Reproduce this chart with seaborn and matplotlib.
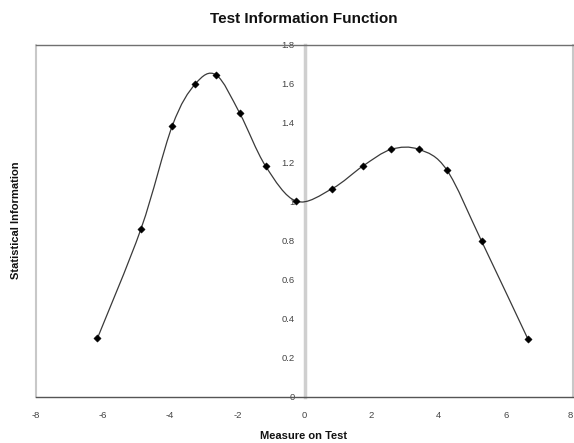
import numpy as np
import pandas as pd
import matplotlib
matplotlib.use("Agg")
import matplotlib.pyplot as plt
from matplotlib.path import Path
from matplotlib.patches import PathPatch
import seaborn as sns

# ---- data ----
measure = [-6.17, -4.87, -3.94, -3.25, -2.63, -1.93, -1.16, -0.24,
           0.83, 1.74, 2.58, 3.41, 4.24, 5.28, 6.66]
information = [0.30, 0.86, 1.385, 1.60, 1.645, 1.45, 1.18, 1.00,
               1.065, 1.18, 1.265, 1.265, 1.16, 0.795, 0.295]
x_ticks = [-8, -6, -4, -2, 0, 2, 4, 6, 8]
y_ticks = [0, 0.2, 0.4, 0.6, 0.8, 1.0, 1.2, 1.4, 1.6, 1.8]
y_tick_labels = ["0", "0.2", "0.4", "0.6", "0.8", "1", "1.2", "1.4", "1.6", "1.8"]

title = "Test Information Function"
x_label = "Measure on Test"
y_label = "Statistical Information"

df = pd.DataFrame({"measure": measure, "information": information})

sns.set_style("white")
plt.rcParams["font.family"] = ["Liberation Sans", "DejaVu Sans"]

W, H = 574, 443
fig = plt.figure(figsize=(W / 100, H / 100), dpi=100)
left, right, top, bottom = 36, 573, 44.7, 397
ax = fig.add_axes([left / W, 1 - bottom / H, (right - left) / W, (bottom - top) / H])

ax.set_xlim(-8, 8)
ax.set_ylim(0, 1.8)

# smooth (Excel-like) curve through the points: Catmull-Rom as cubic Bezier
pts = np.column_stack([df["measure"].to_numpy(), df["information"].to_numpy()])
ext = np.vstack([pts[0], pts, pts[-1]])
verts = [tuple(pts[0])]
codes = [Path.MOVETO]
for i in range(1, len(ext) - 2):
    p0, p1, p2, p3 = ext[i - 1], ext[i], ext[i + 1], ext[i + 2]
    c1 = p1 + (p2 - p0) / 6.0
    c2 = p2 - (p3 - p1) / 6.0
    verts += [tuple(c1), tuple(c2), tuple(p2)]
    codes += [Path.CURVE4] * 3
ax.add_patch(PathPatch(Path(verts, codes), facecolor="none",
                       edgecolor="#3a3a3a", lw=0.9, zorder=3))

sns.scatterplot(data=df, x="measure", y="information", ax=ax, marker="D",
                s=14, color="black", edgecolor="black", linewidth=0.3,
                zorder=4, legend=False)

# axes styling
ax.spines["left"].set_position(("data", 0))
ax.spines["left"].set_color("#cfcfcf")
ax.spines["left"].set_linewidth(2.5)
ax.spines["bottom"].set_color("#555555")
ax.spines["bottom"].set_linewidth(1.0)
ax.spines["top"].set_color("#707070")
ax.spines["top"].set_linewidth(1.0)
ax.spines["right"].set_color("#c8c8c8")
ax.spines["right"].set_linewidth(1.5)
ax.axvline(-8, color="#c8c8c8", lw=1.5, clip_on=False, zorder=1)

ax.set_xticks(x_ticks)
ax.set_xticklabels([str(t) for t in x_ticks])
ax.set_yticks(y_ticks)
ax.set_yticklabels(y_tick_labels)
ax.tick_params(axis="x", direction="out", length=2, width=0.8, color="#555555",
               pad=8, labelsize=6.8, labelcolor="#444444")
ax.tick_params(axis="y", direction="out", length=2, width=0.8, color="#555555",
               pad=5, labelsize=6.8, labelcolor="#444444")
# keep the last x label inside the figure edge
ax.get_xticklabels()[-1].set_horizontalalignment("right")
ax.set_xlabel("")
ax.set_ylabel("")
ax.grid(False)

fig.text(304 / W, 1 - 19 / H, title, ha="center", va="center",
         fontsize=11, fontweight="bold", color="#111111")
fig.text(304 / W, 1 - 436 / H, x_label, ha="center", va="center",
         fontsize=8, fontweight="bold", color="#111111")
fig.text(16 / W, 1 - 220 / H, y_label, ha="center", va="center",
         rotation=90, fontsize=8, fontweight="bold", color="#111111")

fig.savefig("out.png", dpi=100, facecolor="white")
